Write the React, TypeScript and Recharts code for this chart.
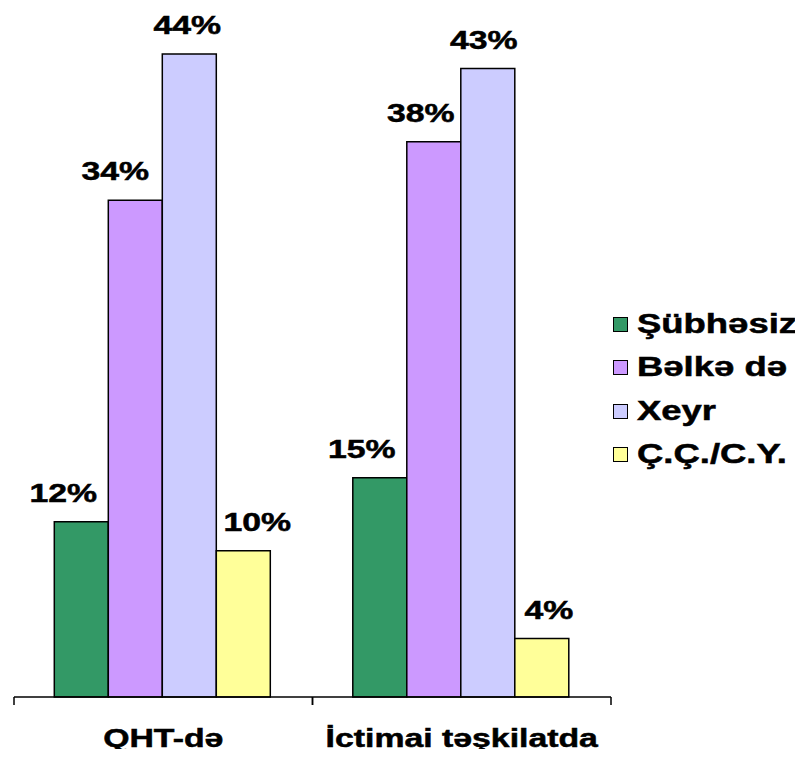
import React from 'react';
import { BarChart, Bar, XAxis, YAxis, LabelList } from 'recharts';

// Survey answers per organisation type (percent)
const categories = ['QHT-də', 'İctimai təşkilatda'];
const seriesNames = ['Şübhəsiz', 'Bəlkə də', 'Xeyr', 'Ç.Ç./C.Y.'];
const subhesiz = [12, 15];
const belkeDe = [34, 38];
const xeyr = [44, 43];
const ccCy = [10, 4];
const seriesColors = ['#339966', '#CC99FF', '#CCCCFF', '#FFFF99'];

const seriesValues = [subhesiz, belkeDe, xeyr, ccCy];
const seriesKeys = ['s0', 's1', 's2', 's3'];

const data = categories.map((category, i) => {
  const row: Record<string, string | number> = { category };
  seriesKeys.forEach((k, s) => {
    row[k] = seriesValues[s][i];
  });
  return row;
});

// horizontal nudges for the value labels (series x category)
const labelNudge = [
  [-18, -18],
  [-20, -13],
  [-2, -4],
  [14, 7],
];

const FONT = "'Liberation Sans', Arial, Helvetica, sans-serif";
const STRETCH = 1.3;

const WideText = ({ x, y, children }: { x: number; y: number; children: React.ReactNode }) => (
  <text
    transform={`translate(${x},${y}) scale(${STRETCH},1)`}
    textAnchor="middle"
    fontFamily={FONT}
    fontWeight="bold"
    fontSize={26}
    fill="#000"
    stroke="#000"
    strokeWidth={0.5}
  >
    {children}
  </text>
);

const makeLabel = (s: number) => (props: any) => {
  const vb = props.viewBox || props;
  const x = Number(vb.x);
  const y = Number(vb.y);
  const w = Number(vb.width);
  const idx = props.index ?? 0;
  const dx = labelNudge[s][idx] ?? 0;
  return (
    <WideText key={`lbl-${s}-${idx}`} x={x + w / 2 + dx} y={y - 20}>
      {`${props.value}%`}
    </WideText>
  );
};

const CategoryTick = (props: any) => {
  const { x, y, payload } = props;
  const half = payload && payload.offset ? payload.offset : 149.25;
  return (
    <g>
      <line x1={x - half} x2={x - half} y1={y} y2={y + 8} stroke="#000" strokeWidth={1.5} />
      <line x1={x + half} x2={x + half} y1={y} y2={y + 8} stroke="#000" strokeWidth={1.5} />
      <WideText x={x} y={y + 50}>
        {payload.value}
      </WideText>
    </g>
  );
};

const LegendBox = () => (
  <div
    style={{
      position: 'absolute',
      left: 612,
      top: 303,
      display: 'flex',
      flexDirection: 'column',
    }}
  >
    {seriesNames.map((name, i) => (
      <div key={name} style={{ display: 'flex', alignItems: 'center', height: 43.3 }}>
        <div
          style={{
            width: 13,
            height: 13,
            background: seriesColors[i],
            border: '1.5px solid #000',
            marginLeft: 1,
            flex: 'none',
          }}
        />
        <span
          style={{
            marginLeft: 9,
            fontFamily: FONT,
            fontWeight: 'bold',
            fontSize: 27,
            lineHeight: '27px',
            color: '#000',
            whiteSpace: 'nowrap',
            display: 'inline-block',
            transform: 'scaleX(1.35)',
            transformOrigin: 'left center',
            WebkitTextStroke: '0.5px #000',
          }}
        >
          {name}
        </span>
      </div>
    ))}
  </div>
);

export default function App() {
  return (
    <div style={{ margin: -8, width: 803, height: 757, background: '#fff', position: 'relative' }}>
      <BarChart
        width={803}
        height={757}
        data={data}
        margin={{ top: 54, right: 192, left: 14, bottom: 0 }}
        barCategoryGap="13.5%"
        barGap={0}
      >
        <XAxis
          dataKey="category"
          height={60}
          axisLine={{ stroke: '#000', strokeWidth: 1.5 }}
          tickLine={false}
          tickSize={0}
          tickMargin={0}
          tick={<CategoryTick />}
          interval={0}
        />
        <YAxis hide domain={[0, 44]} />
        {seriesKeys.map((k, s) => (
          <Bar
            key={k}
            dataKey={k}
            name={seriesNames[s]}
            fill={seriesColors[s]}
            stroke="#000"
            strokeWidth={1.5}
            isAnimationActive={false}
          >
            <LabelList dataKey={k} content={makeLabel(s)} />
          </Bar>
        ))}
      </BarChart>
      <LegendBox />
    </div>
  );
}
